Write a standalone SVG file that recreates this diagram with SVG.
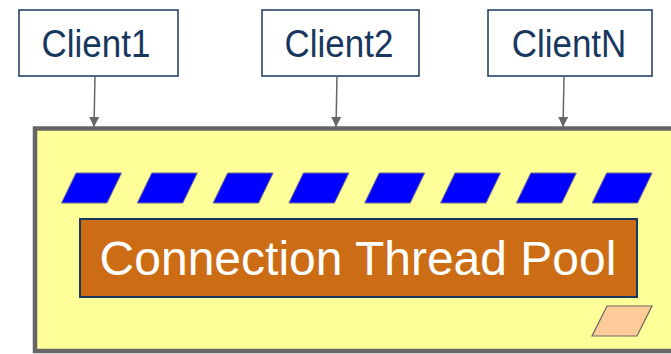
<svg xmlns="http://www.w3.org/2000/svg" width="671" height="354" viewBox="0 0 671 354">
  <style>
    .client rect { fill: #ffffff; stroke: #17375e; stroke-width: 1.5; }
    .client text { font-family: "Liberation Sans", Arial, sans-serif; font-size: 38px; fill: #17375e; text-anchor: middle; }
    .conn { stroke: #666666; stroke-width: 1.5; fill: none; marker-end: url(#arrow); }
    .slot { fill: #0000ff; stroke: #6f6f8f; stroke-width: 1; }
  </style>
  <defs>
    <marker id="arrow" viewBox="0 0 10 10" refX="10" refY="5" markerWidth="10" markerHeight="15" orient="auto" markerUnits="userSpaceOnUse">
      <path d="M0,0 L10,5 L0,10 Z" fill="#666666"/>
    </marker>
    <polygon id="slotShape" points="14.5,0 60,0 45.5,30 0,30"/>
  </defs>

  <rect width="671" height="354" fill="#ffffff"/>

  <!-- server frame -->
  <g id="server">
    <rect x="35" y="128.5" width="700" height="222.5" fill="#ffff99" stroke="#666666" stroke-width="4.5"/>
  </g>

  <!-- connection slots -->
  <g id="slots">
    <use href="#slotShape" class="slot" x="61.5" y="173"/>
    <use href="#slotShape" class="slot" x="137.3" y="173"/>
    <use href="#slotShape" class="slot" x="213.1" y="173"/>
    <use href="#slotShape" class="slot" x="288.9" y="173"/>
    <use href="#slotShape" class="slot" x="364.7" y="173"/>
    <use href="#slotShape" class="slot" x="440.5" y="173"/>
    <use href="#slotShape" class="slot" x="516.3" y="173"/>
    <use href="#slotShape" class="slot" x="592.1" y="173"/>
  </g>

  <!-- thread pool -->
  <g id="pool">
    <rect x="80" y="219" width="557" height="78" fill="#cc6d15" stroke="#17375e" stroke-width="2"/>
    <text x="358" y="275" font-family="'Liberation Sans', Arial, sans-serif" font-size="48" fill="#ffffff" text-anchor="middle">Connection Thread Pool</text>
  </g>

  <!-- spare slot -->
  <g id="spare">
    <polygon points="607,306 652,306 637,336 592,336" fill="#ffcc99" stroke="#666666" stroke-width="1.2"/>
  </g>

  <!-- clients (labels slightly condensed) -->
  <g id="client1" class="client">
    <rect x="19" y="10" width="159" height="66"/>
    <text transform="translate(96 57) scale(0.92 1)">Client1</text>
  </g>
  <g id="client2" class="client">
    <rect x="262" y="10" width="157" height="66"/>
    <text transform="translate(339 57) scale(0.92 1)">Client2</text>
  </g>
  <g id="clientN" class="client">
    <rect x="488" y="10" width="164" height="66"/>
    <text transform="translate(569 57) scale(0.92 1)">ClientN</text>
  </g>

  <!-- connectors -->
  <g id="connectors">
    <line class="conn" x1="95" y1="76" x2="94" y2="127"/>
    <line class="conn" x1="337" y1="76" x2="336" y2="127"/>
    <line class="conn" x1="564" y1="76" x2="563" y2="127"/>
  </g>
</svg>
